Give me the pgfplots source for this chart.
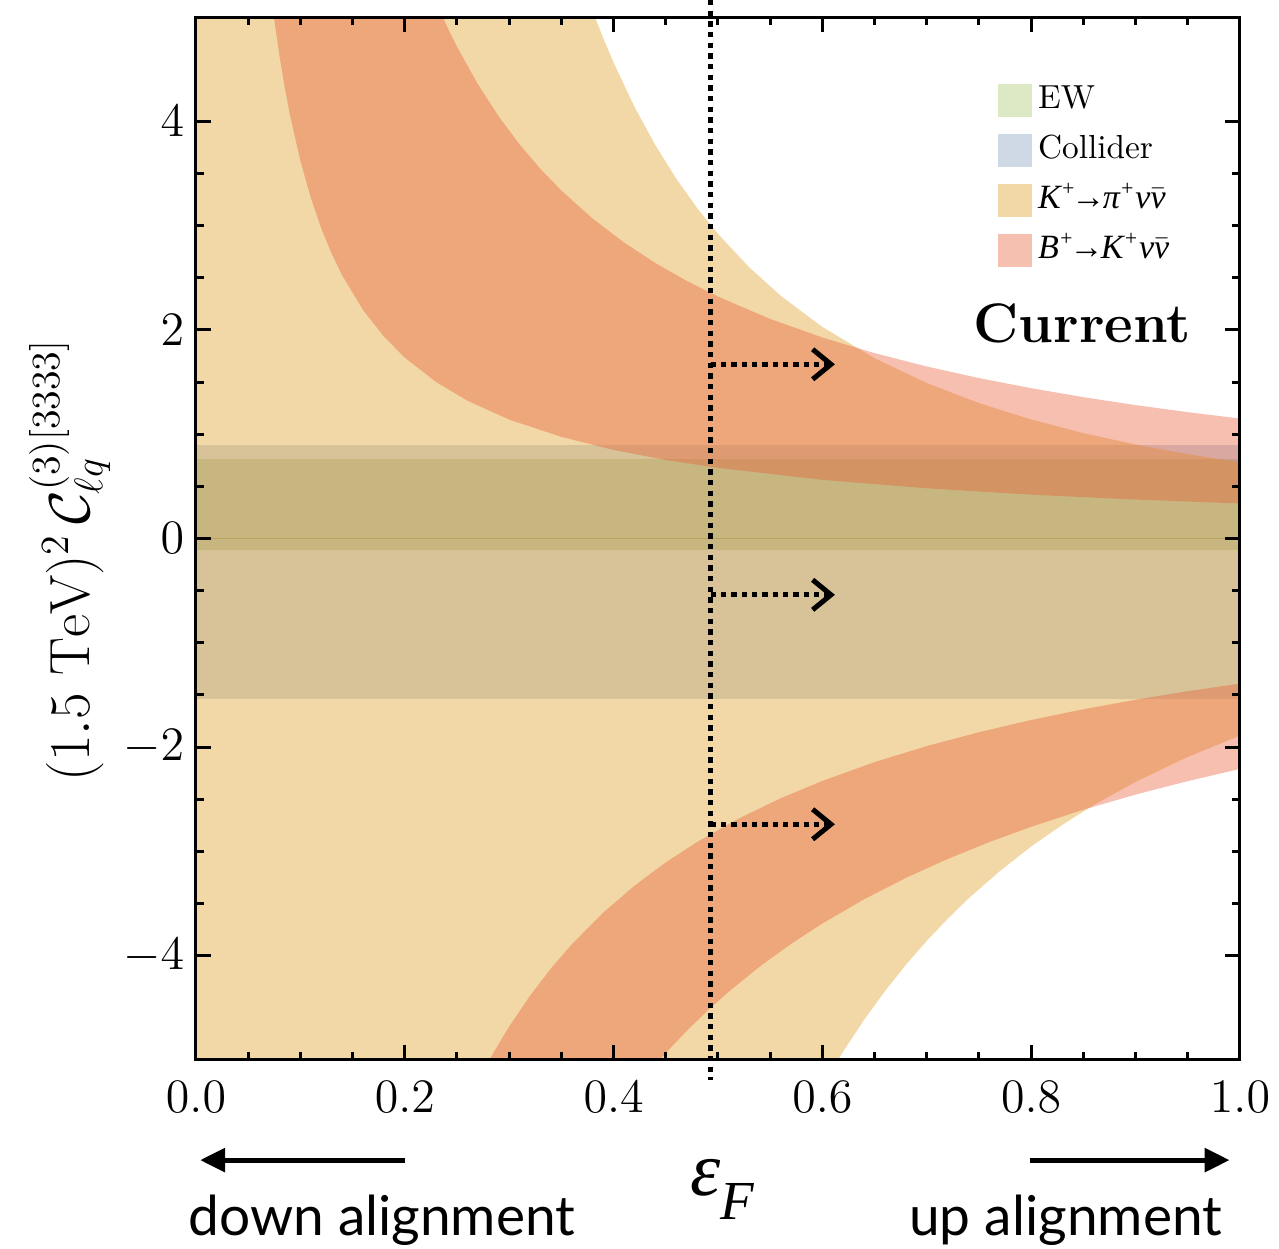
\documentclass[border=0pt]{standalone}
\usepackage{fontspec}
\usepackage{pgfplots}
\pgfplotsset{compat=1.18}
\usetikzlibrary{arrows.meta}
\newfontfamily\latofont{Lato}
\newfontfamily\tms{Liberation Serif}

% band colours
\definecolor{collfill}{RGB}{207,217,230}
\definecolor{ewfill}{RGB}{177,195,188}
\definecolor{zeroline}{RGB}{150,160,125}
\definecolor{kaon}{RGB}{228,168,59}
\definecolor{bmeson}{RGB}{232,95,55}
% legend swatches
\definecolor{ewleg}{RGB}{221,232,196}
\definecolor{colleg}{RGB}{207,217,230}
\definecolor{kleg}{RGB}{242,216,166}
\definecolor{bleg}{RGB}{246,192,176}

\tikzset{
  improve/.style={line width=1.5pt, dash pattern=on 1.6pt off 1.5pt,
    -{Straight Barb[length=5.5pt,width=9pt]}},
}
% decay labels set in an italic serif
\newcommand{\pl}{\raisebox{0.38em}{\fontsize{6.5}{7}\selectfont +}}
\newcommand{\nubar}{$\bar{\hbox{\tms\itshape ν}}$}

\begin{document}
\begin{tikzpicture}
\begin{axis}[
  scale only axis,
  width=313.2pt, height=312.9pt,
  xmin=0, xmax=1, ymin=-5, ymax=5,
  clip mode=individual,
  axis on top,
  axis line style={line width=0.9pt},
  every tick/.style={black, line width=0.9pt},
  major tick length=4.5pt, minor tick length=2.4pt,
  tick align=inside, ticks=both,
  xtick={0,0.2,0.4,0.6,0.8,1.0},
  ytick={-4,-2,0,2,4},
  minor x tick num=3, minor y tick num=3,
  xticklabel={\pgfmathprintnumber[fixed,fixed zerofill,precision=1]{\tick}},
  ticklabel style={font=\fontsize{14.5}{17}\selectfont},
  xticklabel style={yshift=-3pt},
  legend style={at={(rel axis cs:0.768,0.94)}, anchor=north west, draw=none, fill=none,
    inner sep=0pt, row sep=3pt, font=\fontsize{10}{12}\selectfont,
    nodes={inner sep=1pt, text height=7.5pt, text depth=2.5pt}},
  legend cell align=left,
]
% legend swatches
\addlegendimage{legend image code/.code={\fill[ewleg] (0pt,-4.8pt) rectangle (9.6pt,4.8pt);\path (10.5pt,0pt);}}
\addlegendentry{EW}
\addlegendimage{legend image code/.code={\fill[colleg] (0pt,-4.8pt) rectangle (9.6pt,4.8pt);\path (10.5pt,0pt);}}
\addlegendentry{Collider}
\addlegendimage{legend image code/.code={\fill[kleg] (0pt,-4.8pt) rectangle (9.6pt,4.8pt);\path (10.5pt,0pt);}}
\addlegendentry{{\tms\itshape\fontsize{10.2}{12}\selectfont K\pl\kern-1.2pt→\kern-0.8pt π\pl\kern0.3pt ν\nubar}}
\addlegendimage{legend image code/.code={\fill[bleg] (0pt,-4.8pt) rectangle (9.6pt,4.8pt);\path (10.5pt,0pt);}}
\addlegendentry{{\tms\itshape\fontsize{10.2}{12}\selectfont B\pl\kern-1.2pt→\kern-0.8pt K\pl\kern0.3pt ν\nubar}}

% Collider band
\addplot[forget plot, fill=collfill, draw=none]
  coordinates {(-0.01,-1.535) (1.01,-1.535) (1.01,0.90) (-0.01,0.90)} -- cycle;
% EW band
\addplot[forget plot, fill=ewfill, draw=none]
  coordinates {(-0.01,-0.106) (1.01,-0.106) (1.01,0.76) (-0.01,0.76)} -- cycle;
\addplot[forget plot, zeroline, line width=0.45pt] coordinates {(-0.01,0) (1.01,0)};

% K+ -> pi+ nu nubar allowed region
\addplot[forget plot, fill=kaon, fill opacity=0.45, draw=none] coordinates {
  (-0.01,6) (0.3488,6) (0.36,5.633) (0.37,5.332) (0.38,5.055) (0.39,4.799)
  (0.40,4.5625) (0.42,4.138) (0.44,3.771) (0.46,3.450) (0.48,3.168)
  (0.50,2.920) (0.53,2.599) (0.56,2.328) (0.60,2.028) (0.65,1.728)
  (0.70,1.490) (0.75,1.298) (0.80,1.141) (0.85,1.010) (0.90,0.901)
  (0.95,0.809) (1.00,0.730) (1.01,0.716)
  (1.01,-1.853) (1.00,-1.890) (0.95,-2.094) (0.90,-2.333) (0.86,-2.555)
  (0.83,-2.744) (0.80,-2.953) (0.77,-3.188) (0.74,-3.451) (0.72,-3.646)
  (0.70,-3.857) (0.68,-4.087) (0.66,-4.339) (0.64,-4.614) (0.62,-4.917)
  (0.61,-5.079) (0.60,-5.250) (0.59,-5.429) (0.58,-5.618) (0.57,-5.817)
  (0.5612,-6) (-0.01,-6)
} -- cycle;

% B+ -> K+ nu nubar, upper branch
\addplot[forget plot, fill=bmeson, fill opacity=0.4, draw=none] coordinates {
  (0.0635,6) (0.067,5.644) (0.070,5.371) (0.075,4.970) (0.080,4.625)
  (0.085,4.325) (0.090,4.061) (0.10,3.620) (0.11,3.265) (0.12,2.973)
  (0.13,2.730) (0.14,2.523) (0.16,2.191) (0.18,1.936) (0.20,1.734)
  (0.23,1.500) (0.26,1.321) (0.30,1.140) (0.35,0.974) (0.40,0.849)
  (0.45,0.753) (0.50,0.677) (0.60,0.5625) (0.70,0.481) (0.80,0.420)
  (0.90,0.373) (1.00,0.336) (1.01,0.333)
  (1.01,1.139) (1.00,1.150) (0.95,1.211) (0.90,1.279) (0.85,1.355)
  (0.80,1.441) (0.75,1.538) (0.70,1.649) (0.65,1.777) (0.60,1.927)
  (0.55,2.105) (0.50,2.319) (0.47,2.470) (0.44,2.641) (0.41,2.838)
  (0.38,3.067) (0.35,3.336) (0.33,3.543) (0.31,3.778) (0.29,4.046)
  (0.27,4.355) (0.25,4.715) (0.24,4.918) (0.23,5.140) (0.22,5.382)
  (0.21,5.649) (0.1982,6)
} -- cycle;

% B+ -> K+ nu nubar, lower branch
\addplot[forget plot, fill=bmeson, fill opacity=0.4, draw=none] coordinates {
  (0.2348,-6) (0.245,-5.747) (0.255,-5.518) (0.265,-5.307) (0.275,-5.111)
  (0.285,-4.929) (0.30,-4.679) (0.32,-4.383) (0.34,-4.122) (0.36,-3.890)
  (0.39,-3.588) (0.42,-3.329) (0.45,-3.105) (0.48,-2.910) (0.52,-2.684)
  (0.56,-2.491) (0.60,-2.324) (0.65,-2.144) (0.70,-1.990) (0.75,-1.857)
  (0.80,-1.740) (0.85,-1.637) (0.90,-1.546) (0.95,-1.464) (1.00,-1.391)
  (1.01,-1.377)
  (1.01,-2.187) (1.00,-2.209) (0.95,-2.326) (0.90,-2.455) (0.85,-2.600)
  (0.80,-2.764) (0.76,-2.910) (0.72,-3.073) (0.68,-3.254) (0.64,-3.459)
  (0.60,-3.691) (0.57,-3.887) (0.54,-4.104) (0.51,-4.348) (0.49,-4.527)
  (0.47,-4.721) (0.45,-4.933) (0.44,-5.046) (0.43,-5.164) (0.42,-5.288)
  (0.41,-5.419) (0.40,-5.556) (0.39,-5.699) (0.38,-5.851) (0.3707,-6)
} -- cycle;

% current value of epsilon_F and direction of improvement
\draw[line width=1.5pt, dash pattern=on 1.6pt off 1.6pt]
  (axis cs:0.493,5.163) -- (axis cs:0.493,-5.19);
\draw[improve] (axis cs:0.493,1.67) -- (axis cs:0.612,1.67);
\draw[improve] (axis cs:0.493,-0.54) -- (axis cs:0.612,-0.54);
\draw[improve] (axis cs:0.493,-2.74) -- (axis cs:0.612,-2.74);

\node[anchor=base, font=\fontsize{16.7}{19}\selectfont\bfseries]
  at (axis cs:0.849,1.88) {Current};

% axis titles
\node[rotate=90, font=\fontsize{17}{20}\selectfont]
  at (axis cs:-0.121,-0.21) {$(1.5\ \mathrm{TeV})^2\, \mathcal{C}_{\ell q}^{(3)[3333]}$};
\node[anchor=base, font=\fontsize{23}{27}\selectfont]
  at (axis cs:0.505,-6.30) {$\hbox{\tms\itshape ε}_{\raisebox{-3.5pt}{\tms\itshape\fontsize{16.5}{19}\selectfont F}}$};
\draw[line width=1.5pt, -{Triangle[length=7.5pt,width=7pt]}]
  (axis cs:0.200,-5.96) -- (axis cs:0.004,-5.96);
\draw[line width=1.5pt, -{Triangle[length=7.5pt,width=7pt]}]
  (axis cs:0.799,-5.96) -- (axis cs:0.990,-5.96);
\node[anchor=base, font=\fontsize{16.5}{19}\latofont]
  at (axis cs:0.178,-6.686) {down alignment};
\node[anchor=base, font=\fontsize{16.5}{19}\latofont]
  at (axis cs:0.833,-6.686) {up alignment};
\end{axis}
\pgfresetboundingbox
\path (current axis.south west) ++(-58.8pt,-56.7pt) rectangle ++(383.7pt,374.7pt);
\end{tikzpicture}
\end{document}
